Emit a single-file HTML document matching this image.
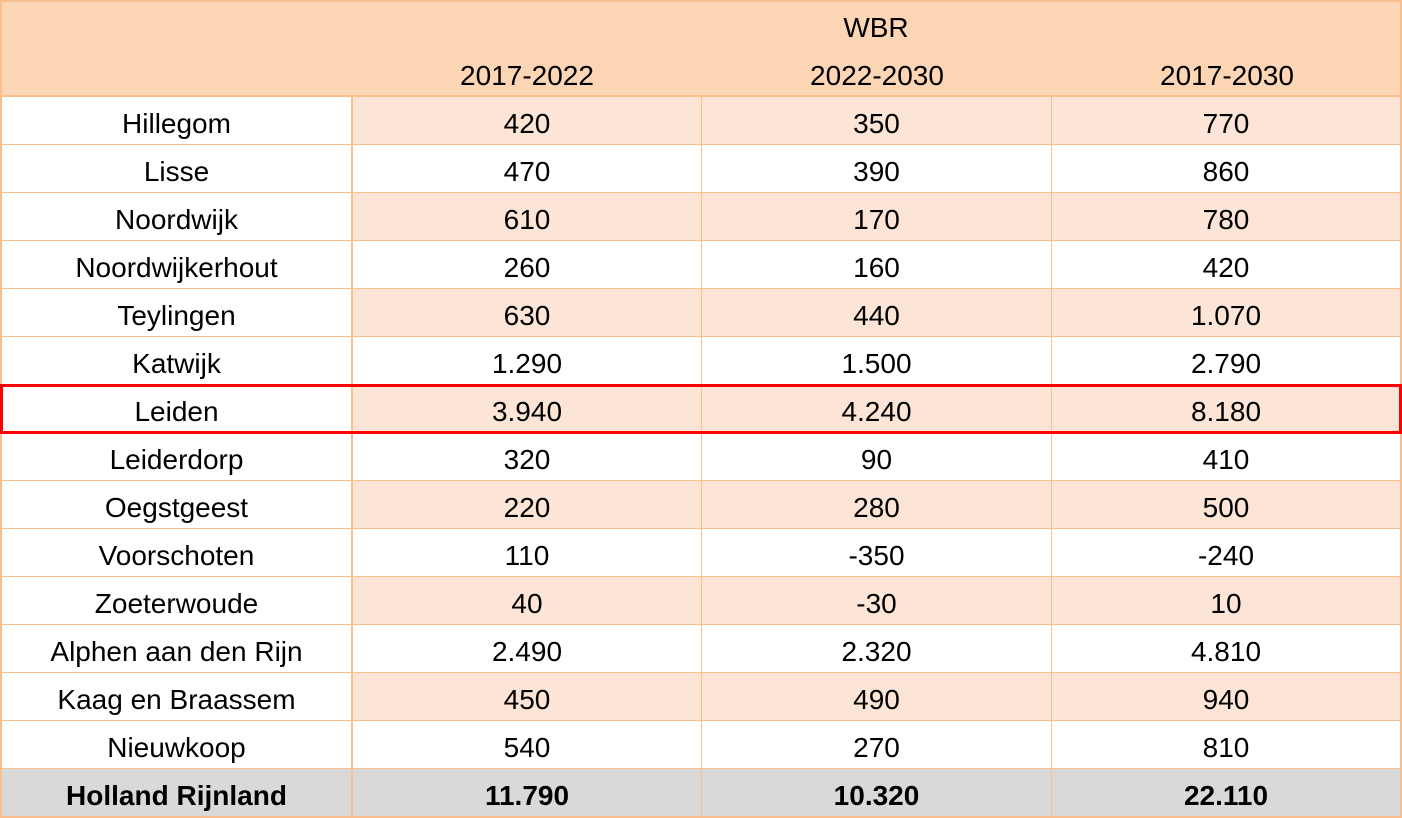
<!DOCTYPE html>
<html><head><style>
body{margin:0;width:1402px;height:818px;position:relative;overflow:hidden;background:#fff;font-family:"Liberation Sans",Arial,sans-serif;font-size:28px;color:#000}
.c{position:absolute;display:flex;align-items:center;justify-content:center;box-sizing:border-box}
</style></head><body>
<div class="c" style="left:0;top:0;width:1402px;height:97px;background:#FCD5B4;border-top:2px solid #FABF8F;border-left:2px solid #FABF8F;border-right:2px solid #FABF8F;border-bottom:2px solid #FABF8F"></div>
<div class="c" style="left:350px;top:8px;width:1052px;height:40px">WBR</div>
<div class="c" style="left:352px;top:56px;width:350px;height:40px">2017-2022</div>
<div class="c" style="left:702px;top:56px;width:350px;height:40px">2022-2030</div>
<div class="c" style="left:1052px;top:56px;width:350px;height:40px">2017-2030</div>
<div id="rows"></div>
<script>
var d=[["Hillegom","420","350","770"],["Lisse","470","390","860"],["Noordwijk","610","170","780"],["Noordwijkerhout","260","160","420"],["Teylingen","630","440","1.070"],["Katwijk","1.290","1.500","2.790"],["Leiden","3.940","4.240","8.180"],["Leiderdorp","320","90","410"],["Oegstgeest","220","280","500"],["Voorschoten","110","-350","-240"],["Zoeterwoude","40","-30","10"],["Alphen aan den Rijn","2.490","2.320","4.810"],["Kaag en Braassem","450","490","940"],["Nieuwkoop","540","270","810"],["Holland Rijnland","11.790","10.320","22.110"]];
var h="",xs=[0,351,701,1051],ws=[351,350,350,351];
d.forEach(function(r,i){var t=97+48*i,tot=i==14;
for(var j=0;j<4;j++){var bg=tot?"#D9D9D9":(j>0&&i%2==0?"#FCE4D6":"#fff");
h+='<div class="c" style="left:'+xs[j]+'px;top:'+t+'px;width:'+ws[j]+'px;height:'+(tot?49:48)+'px;background:'+bg+';border-left:'+(j<2?2:1)+'px solid #FABF8F;'+(j==3?'border-right:2px solid #FABF8F;':'')+'border-bottom:'+(tot?2:1)+'px solid #FABF8F;'+(tot?'font-weight:bold;':'')+'padding-top:6px">'+r[j]+'</div>';}
});
h+='<div style="position:absolute;left:0;top:384px;width:1402px;height:50px;box-sizing:border-box;border:3px solid #FF0000"></div>';
document.getElementById("rows").innerHTML=h;
</script>
</body></html>
